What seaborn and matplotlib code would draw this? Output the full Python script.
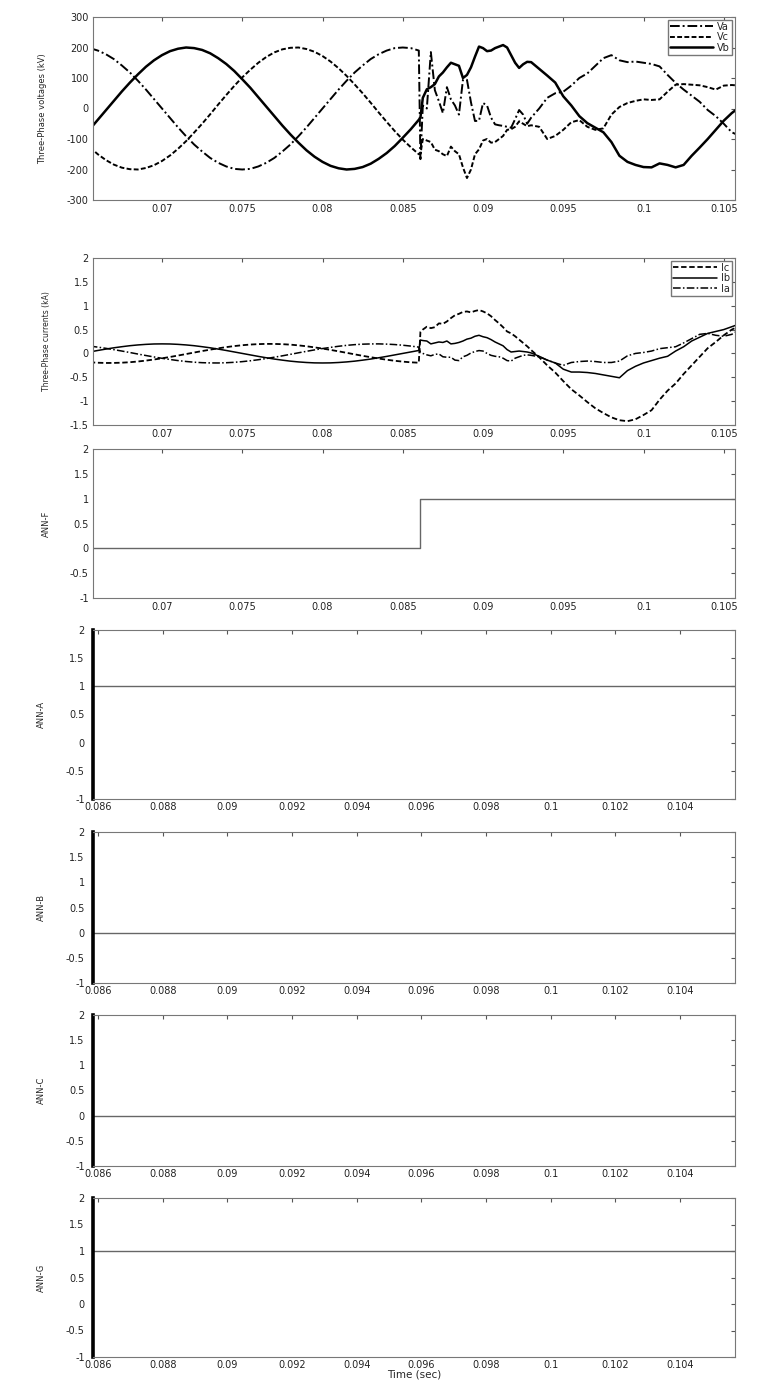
import numpy as np
import matplotlib
matplotlib.use("Agg")
import matplotlib.pyplot as plt
import seaborn as sns
from matplotlib.ticker import FixedLocator, FormatStrFormatter

# ---------------- data ----------------
# time samples (s): before the fault, then after it
t_pre = [0.0655, 0.0660, 0.0665, 0.0670, 0.0675, 0.0680, 0.0685, 0.0690, 0.0695, 0.0700,
         0.0705, 0.0710, 0.0715, 0.0720, 0.0725, 0.0730, 0.0735, 0.0740, 0.0745, 0.0750,
         0.0755, 0.0760, 0.0765, 0.0770, 0.0775, 0.0780, 0.0785, 0.0790, 0.0795, 0.0800,
         0.0805, 0.0810, 0.0815, 0.0820, 0.0825, 0.0830, 0.0835, 0.0840, 0.0845, 0.0850,
         0.0855, 0.0860]
t_post = [0.0861, 0.08625, 0.0865, 0.08675, 0.0870, 0.08725, 0.0875, 0.08775, 0.0880, 0.08825,
          0.0885, 0.08875, 0.0890, 0.08925, 0.0895, 0.08975, 0.0900, 0.09025, 0.0905, 0.09075,
          0.0910, 0.09125, 0.0915, 0.09175, 0.0920, 0.09225, 0.0925, 0.09275, 0.0930,
          0.0935, 0.0940, 0.0945, 0.0950, 0.0955, 0.0960, 0.0965, 0.0970, 0.0975, 0.0980,
          0.0985, 0.0990, 0.0995, 0.1000, 0.1005, 0.1010, 0.1015, 0.1020, 0.1025, 0.1030,
          0.1035, 0.1040, 0.1045, 0.1050, 0.1055, 0.1060]

# three-phase voltages (kV)
va_pre = [198, 190, 178, 162, 141, 118, 91, 62, 31, 0, -31, -62, -91, -118, -141, -162, -178,
          -190, -198, -200, -198, -190, -178, -162, -141, -118, -91, -62, -31, 0, 31, 62, 91,
          118, 141, 162, 178, 190, 198, 200, 198, 190]
va_post = [-166, 10, 0, 185, 60, 24, -15, 70, 30, 10, -20, 94, 94, 20, -41, -40, 18, 10, -30,
           -52, -55, -57, -60, -63, -35, -5, -20, -50, -30,
           0, 35, 50, 55, 75, 100, 115, 140, 165, 175, 158, 152, 154, 150, 146, 138, 110, 84,
           62, 42, 22, -5, -25, -50, -78, -90]
vb_pre = [-68, -37, -6, 25, 56, 85, 112, 137, 158, 175, 188, 196, 200, 198, 192, 181, 165, 146,
          123, 96, 68, 37, 6, -25, -56, -85, -112, -137, -158, -175, -188, -196, -200, -198,
          -192, -181, -165, -146, -123, -96, -68, -37]
vb_post = [-30, 35, 63, 70, 80, 105, 118, 135, 150, 145, 140, 100, 110, 135, 170, 203, 198, 188,
           190, 198, 203, 208, 200, 175, 150, 133, 145, 153, 152,
           130, 108, 85, 40, 10, -25, -48, -63, -78, -110, -155, -175, -185, -192, -193, -180,
           -185, -193, -185, -155, -128, -100, -70, -40, -15, 5]
vc_pre = [-127, -150, -169, -184, -194, -199, -200, -195, -186, -172, -154, -132, -107, -79, -50,
          -19, 13, 44, 74, 102, 127, 150, 169, 184, 194, 199, 200, 195, 186, 172, 154, 132, 107,
          79, 50, 19, -13, -44, -74, -102, -127, -150]
vc_post = [-150, -100, -105, -110, -135, -140, -150, -156, -125, -140, -150, -193, -228, -200,
           -150, -134, -105, -100, -112, -110, -100, -90, -70, -68, -60, -42, -50, -58, -55,
           -60, -100, -90, -70, -45, -38, -60, -70, -65, -20, 5, 18, 25, 30, 28, 30, 55, 78, 80,
           78, 76, 70, 62, 75, 77, 75]

# three-phase currents (kA)
ia_pre = [0.154, 0.132, 0.107, 0.079, 0.050, 0.019, -0.013, -0.044, -0.074, -0.102, -0.127,
          -0.150, -0.169, -0.184, -0.194, -0.199, -0.200, -0.195, -0.186, -0.172, -0.154, -0.132,
          -0.107, -0.079, -0.050, -0.019, 0.013, 0.044, 0.074, 0.102, 0.127, 0.150, 0.169,
          0.184, 0.194, 0.199, 0.200, 0.195, 0.186, 0.172, 0.154, 0.132]
ia_post = [0.02, 0.00, -0.03, -0.05, -0.02, -0.01, -0.07, -0.08, -0.08, -0.14, -0.15, -0.07,
           -0.04, 0.01, 0.04, 0.06, 0.05, 0.00, -0.04, -0.06, -0.07, -0.10, -0.15, -0.16, -0.10,
           -0.07, -0.04, -0.03, -0.04,
           -0.07, -0.14, -0.20, -0.25, -0.19, -0.17, -0.16, -0.17, -0.19, -0.19, -0.16, -0.05,
           0.00, 0.02, 0.05, 0.10, 0.12, 0.14, 0.22, 0.31, 0.40, 0.42, 0.38, 0.36, 0.40, 0.50]
ib_pre = [0.031, 0.062, 0.091, 0.118, 0.141, 0.162, 0.178, 0.190, 0.198, 0.200, 0.198, 0.190,
          0.178, 0.162, 0.141, 0.118, 0.091, 0.062, 0.031, 0.000, -0.031, -0.062, -0.091,
          -0.118, -0.141, -0.162, -0.178, -0.190, -0.198, -0.200, -0.198, -0.190, -0.178,
          -0.162, -0.141, -0.118, -0.091, -0.062, -0.031, 0.000, 0.031, 0.062]
ib_post = [0.28, 0.27, 0.26, 0.20, 0.22, 0.24, 0.23, 0.26, 0.20, 0.21, 0.23, 0.26, 0.30, 0.32,
           0.36, 0.38, 0.35, 0.33, 0.29, 0.24, 0.20, 0.16, 0.08, 0.03, 0.04, 0.05, 0.04, 0.03, 0.01,
           -0.06, -0.14, -0.20, -0.33, -0.39, -0.39, -0.40, -0.42, -0.45, -0.48, -0.51, -0.36,
           -0.27, -0.20, -0.15, -0.10, -0.06, 0.05, 0.14, 0.26, 0.34, 0.42, 0.46, 0.50, 0.56, 0.62]
ic_pre = [-0.186, -0.195, -0.200, -0.199, -0.194, -0.184, -0.169, -0.150, -0.127, -0.102,
          -0.074, -0.044, -0.013, 0.019, 0.050, 0.079, 0.107, 0.132, 0.154, 0.172, 0.186, 0.195,
          0.200, 0.199, 0.194, 0.184, 0.169, 0.150, 0.127, 0.102, 0.074, 0.044, 0.013, -0.019,
          -0.050, -0.079, -0.107, -0.132, -0.154, -0.172, -0.186, -0.195]
ic_post = [0.45, 0.50, 0.56, 0.53, 0.55, 0.63, 0.62, 0.67, 0.74, 0.80, 0.83, 0.87, 0.88, 0.86,
           0.89, 0.91, 0.88, 0.84, 0.78, 0.70, 0.63, 0.55, 0.46, 0.42, 0.36, 0.29, 0.22, 0.15, 0.07,
           -0.08, -0.25, -0.40, -0.58, -0.75, -0.88, -1.02, -1.15, -1.25, -1.34, -1.40, -1.42,
           -1.38, -1.29, -1.19, -0.97, -0.78, -0.63, -0.43, -0.25, -0.07, 0.11, 0.24, 0.38, 0.50,
           0.58]

# ANN outputs
t_ann_f = [0.0655, 0.0861, 0.1060]
ann_f = [0, 1, 1]
t_ann = [0.0858, 0.1060]
ann_a = [1, 1]
ann_b = [0, 0]
ann_c = [0, 0]
ann_g = [1, 1]

xticks_long = [0.07, 0.075, 0.08, 0.085, 0.09, 0.095, 0.1, 0.105]
xticks_short = [0.086, 0.088, 0.09, 0.092, 0.094, 0.096, 0.098, 0.1, 0.102, 0.104]

# ---------------- style ----------------
sns.set_style("white")
plt.rcParams.update({
    "font.family": ["DejaVu Sans"],
    "axes.unicode_minus": False,
    "xtick.direction": "in",
    "ytick.direction": "in",
    "xtick.top": True,
    "ytick.right": True,
    "xtick.major.size": 3,
    "ytick.major.size": 3,
    "xtick.color": "#555555",
    "ytick.color": "#555555",
    "xtick.labelcolor": "#222222",
    "ytick.labelcolor": "#222222",
})

t_sim = np.array(t_pre + t_post)

W, H = 765, 1399
fig = plt.figure(figsize=(W / 100, H / 100), dpi=100)


def new_axes(top, bottom, left=93, right=735):
    return fig.add_axes([left / W, 1 - bottom / H, (right - left) / W, (bottom - top) / H])


def dress(ax, xlim, xticks, ylim, yticks, ylabel, ylabel_size=6.0):
    ax.set_xlim(*xlim)
    ax.set_ylim(*ylim)
    ax.xaxis.set_major_locator(FixedLocator(xticks))
    ax.yaxis.set_major_locator(FixedLocator(yticks))
    ax.xaxis.set_major_formatter(FormatStrFormatter("%g"))
    ax.yaxis.set_major_formatter(FormatStrFormatter("%g"))
    ax.tick_params(labelsize=7, pad=3)
    ax.set_ylabel(ylabel, fontsize=ylabel_size, labelpad=14)
    ax.set_xlabel("")
    for s in ax.spines.values():
        s.set_color("#777777")
        s.set_linewidth(0.8)


# ---- panel 1: voltages ----
ax1 = new_axes(17, 200)
sns.lineplot(x=t_sim, y=np.array(va_pre + va_post), ax=ax1, color="k", linewidth=1.4,
             linestyle=(0, (5, 1.5, 1, 1.5)), label="Va", sort=False, estimator=None)
sns.lineplot(x=t_sim, y=np.array(vc_pre + vc_post), ax=ax1, color="k", linewidth=1.4,
             linestyle=(0, (2.5, 1.2)), label="Vc", sort=False, estimator=None)
sns.lineplot(x=t_sim, y=np.array(vb_pre + vb_post), ax=ax1, color="k", linewidth=1.8,
             linestyle="-", label="Vb", sort=False, estimator=None)
dress(ax1, (0.0657, 0.1057), xticks_long, (-300, 300), list(range(-300, 301, 100)),
      "Three-Phase voltages (kV)")
ax1.legend(loc="upper right", fontsize=7, handlelength=4.5, labelspacing=0.05,
           borderpad=0.2, handletextpad=0.4, fancybox=False, edgecolor="#777777",
           framealpha=1, borderaxespad=0.3)

# ---- panel 2: currents ----
ax2 = new_axes(258, 425)
sns.lineplot(x=t_sim, y=np.array(ic_pre + ic_post), ax=ax2, color="k", linewidth=1.3,
             linestyle=(0, (3, 1.5)), label="Ic", sort=False, estimator=None)
sns.lineplot(x=t_sim, y=np.array(ib_pre + ib_post), ax=ax2, color="k", linewidth=1.1,
             linestyle="-", label="Ib", sort=False, estimator=None)
sns.lineplot(x=t_sim, y=np.array(ia_pre + ia_post), ax=ax2, color="k", linewidth=1.1,
             linestyle=(0, (5, 1.5, 1, 1.5)), label="Ia", sort=False, estimator=None)
dress(ax2, (0.0657, 0.1057), xticks_long, (-1.5, 2), [-1.5, -1, -0.5, 0, 0.5, 1, 1.5, 2],
      "Three-Phase currents (kA)", ylabel_size=5.5)
ax2.legend(loc="upper right", fontsize=7, handlelength=4.5, labelspacing=0.05,
           borderpad=0.2, handletextpad=0.4, fancybox=False, edgecolor="#777777",
           framealpha=1, borderaxespad=0.3)

ann_ticks = [-1, -0.5, 0, 0.5, 1, 1.5, 2]

# ---- panel 3: ANN-F ----
ax3 = new_axes(449, 598)
sns.lineplot(x=t_ann_f, y=ann_f, ax=ax3, color="#666666", linewidth=1.0,
             drawstyle="steps-post", sort=False, estimator=None)
dress(ax3, (0.0657, 0.1057), xticks_long, (-1, 2), ann_ticks, "ANN-F")

# ---- panels 4-7: ANN-A, ANN-B, ANN-C, ANN-G ----
rows = [(630, 799, ann_a, "ANN-A"), (832, 983, ann_b, "ANN-B"),
        (1015, 1166, ann_c, "ANN-C"), (1198, 1357, ann_g, "ANN-G")]
for top, bottom, vals, name in rows:
    ax = new_axes(top, bottom)
    sns.lineplot(x=t_ann, y=vals, ax=ax, color="#666666", linewidth=1.0,
                 sort=False, estimator=None)
    dress(ax, (0.08584, 0.10571), xticks_short, (-1, 2), ann_ticks, name)
    ax.spines["left"].set_color("k")
    ax.spines["left"].set_linewidth(2.6)
    ax.tick_params(axis="x", pad=2)
    ax.tick_params(axis="y", pad=6)

ax.set_xlabel("Time (sec)", fontsize=7.5, labelpad=0)

fig.savefig("out.png", dpi=100, facecolor="white")
